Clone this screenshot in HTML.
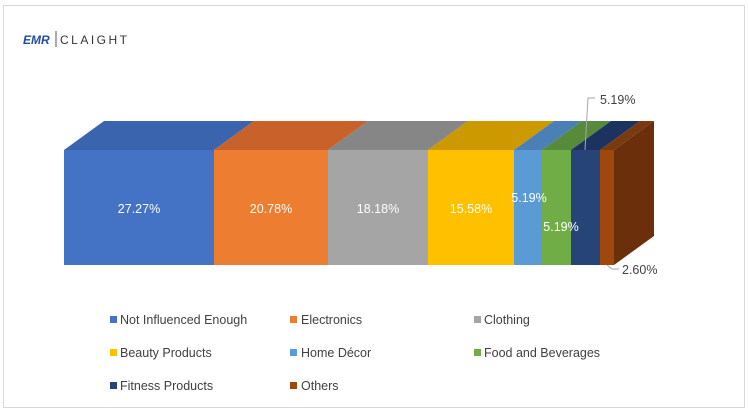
<!DOCTYPE html>
<html><head><meta charset="utf-8"><style>
body{margin:0;background:#fff;}
svg{display:block;font-family:"Liberation Sans",sans-serif;}
</style></head><body>
<svg width="749" height="412" viewBox="0 0 749 412">
<rect x="3.5" y="5.5" width="741" height="402" fill="#fff" stroke="#d9d9d9"/>
<text x="23" y="44" font-size="12" font-weight="bold" fill="#1f4e9a" font-style="italic">EMR</text>
<line x1="56" y1="31" x2="56" y2="47" stroke="#555"/>
<text x="60" y="44" font-size="12" fill="#333" letter-spacing="2.5">CLAIGHT</text>
<g>
<polygon points="64,150 214,150 254,121 104,121" fill="#3a64ad"/>
<polygon points="214,150 328,150 368,121 254,121" fill="#c8622a"/>
<polygon points="328,150 428,150 468,121 368,121" fill="#868686"/>
<polygon points="428,150 514,150 554,121 468,121" fill="#cc9a00"/>
<polygon points="514,150 542,150 582,121 554,121" fill="#4a80b5"/>
<polygon points="542,150 571,150 611,121 582,121" fill="#578a3a"/>
<polygon points="571,150 600,150 640,121 611,121" fill="#1c3360"/>
<polygon points="600,150 614,150 654,121 640,121" fill="#7a3a10"/>
<polygon points="614,150 654,121 654,236 614,265" fill="#6b2f0b"/>
<rect x="64" y="150" width="150" height="115" fill="#4472c4"/>
<rect x="214" y="150" width="114" height="115" fill="#ed7d31"/>
<rect x="328" y="150" width="100" height="115" fill="#a5a5a5"/>
<rect x="428" y="150" width="86" height="115" fill="#ffc000"/>
<rect x="514" y="150" width="28" height="115" fill="#5b9bd5"/>
<rect x="542" y="150" width="29" height="115" fill="#70ad47"/>
<rect x="571" y="150" width="29" height="115" fill="#264478"/>
<rect x="600" y="150" width="14" height="115" fill="#9e480e"/>
</g>
<g font-size="12.5" fill="#fff" text-anchor="middle">
<text x="139" y="213">27.27%</text>
<text x="271" y="213">20.78%</text>
<text x="378" y="213">18.18%</text>
<text x="471" y="213">15.58%</text>
<text x="529" y="202">5.19%</text>
<text x="561" y="231">5.19%</text>
</g>
<polyline points="585,150 588,98 595,98" fill="none" stroke="#a6a6a6"/>
<polyline points="607,265 612,269 619,269" fill="none" stroke="#a6a6a6"/>
<g font-size="12.5" fill="#404040">
<text x="600" y="104">5.19%</text>
<text x="622" y="274">2.60%</text>
</g>
<g font-size="12.5" fill="#404040">
<rect x="110" y="316" width="7" height="7" fill="#4472c4"/><text x="120" y="324">Not Influenced Enough</text>
<rect x="290" y="316" width="7" height="7" fill="#ed7d31"/><text x="301" y="324">Electronics</text>
<rect x="474" y="316" width="7" height="7" fill="#a5a5a5"/><text x="484" y="324">Clothing</text>
<rect x="110" y="349" width="7" height="7" fill="#ffc000"/><text x="120" y="357">Beauty Products</text>
<rect x="290" y="349" width="7" height="7" fill="#5b9bd5"/><text x="301" y="357">Home Décor</text>
<rect x="474" y="349" width="7" height="7" fill="#70ad47"/><text x="484" y="357">Food and Beverages</text>
<rect x="110" y="382" width="7" height="7" fill="#264478"/><text x="120" y="390">Fitness Products</text>
<rect x="290" y="382" width="7" height="7" fill="#9e480e"/><text x="301" y="390">Others</text>
</g>
</svg>
</body></html>
